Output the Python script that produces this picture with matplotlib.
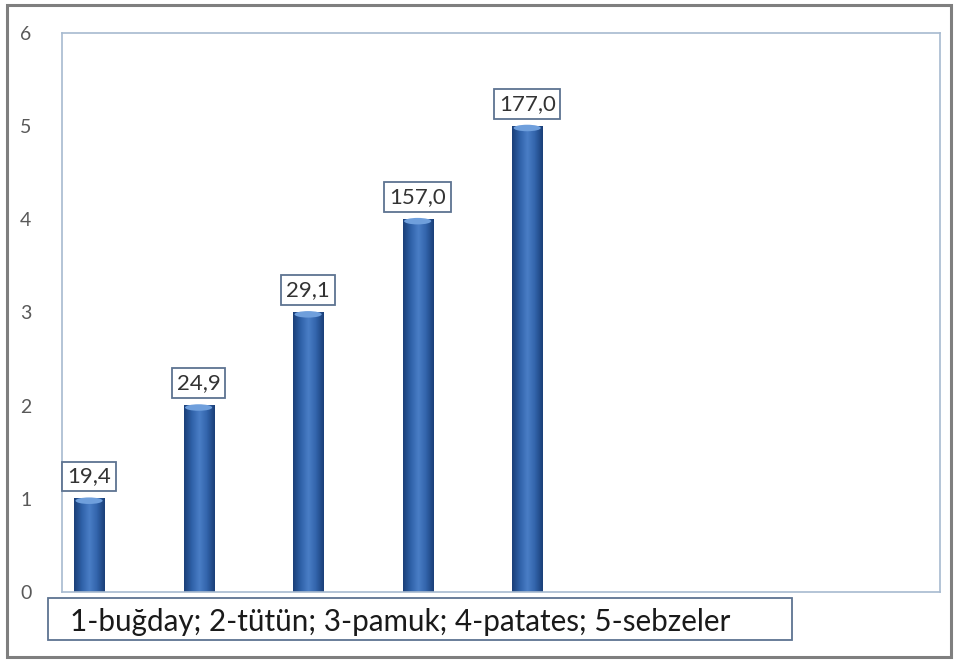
import numpy as np
import matplotlib.pyplot as plt
from matplotlib.colors import LinearSegmentedColormap
from matplotlib.patches import Ellipse, Rectangle

# chart data
positions = [1, 2, 3, 4, 5]
heights = [1, 2, 3, 4, 5]
labels = ['19,4', '24,9', '29,1', '157,0', '177,0']
y_ticks = [0, 1, 2, 3, 4, 5, 6]
legend_text = '1-buğday; 2-tütün; 3-pamuk; 4-patates; 5-sebzeler'

plt.rcParams['font.family'] = ['Lato', 'DejaVu Sans']

fig = plt.figure(figsize=(9.57, 6.64), dpi=100)
ax = fig.add_axes([0.0648, 0.1084, 0.9175, 0.842])

bar_w = 0.275
cyl = LinearSegmentedColormap.from_list(
    'cyl', ['#1a3f78', '#2f61a8', '#4a7ec6', '#3264ab', '#1a3f78'])
grad = np.linspace(0, 1, 64).reshape(1, -1)

for x, h, lab in zip(positions, heights, labels):
    ax.imshow(grad, cmap=cyl, extent=[x - bar_w / 2, x + bar_w / 2, 0, h],
              aspect='auto', zorder=2, interpolation='bicubic')
    ax.add_patch(Ellipse((x, h - 0.02), bar_w * 0.9, 0.07,
                         facecolor='#6f9fdc', edgecolor='none', zorder=3))
    ax.text(x, h + 0.24, lab, ha='center', va='center', fontsize=16,
            color='#333333', zorder=4,
            bbox=dict(boxstyle='square,pad=0.22', facecolor='white',
                      edgecolor='#5d7391', linewidth=1.3))

ax.set_xlim(0.753, 8.77)
ax.set_ylim(0, 6)
ax.set_yticks(y_ticks)
ax.set_xticks([])
ax.tick_params(axis='y', length=0, pad=22, labelsize=14, labelcolor='#595959')
for s in ax.spines.values():
    s.set_color('#a7bad0')
    s.set_linewidth(1.2)

# legend box with the category key
fig.text(0.073, 0.0635, legend_text, fontsize=21.3, color='#1a1a1a',
         va='center', ha='left')
fig.add_artist(Rectangle((0.050, 0.036), 0.778, 0.063,
                         transform=fig.transFigure, facecolor='none',
                         edgecolor='#5d7391', linewidth=1.3))

# outer chart frame
fig.add_artist(Rectangle((0.007, 0.010), 0.987, 0.982,
                         transform=fig.transFigure, facecolor='none',
                         edgecolor='#7f7f7f', linewidth=2.2))

fig.savefig('out.png', dpi=100)
